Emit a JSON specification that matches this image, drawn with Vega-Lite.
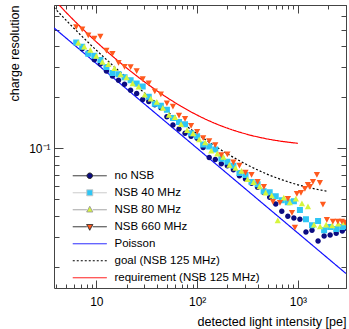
{
"$schema": "https://vega.github.io/schema/vega-lite/v6.json",
"width": 292, "height": 283,
"autosize": "none",
"padding": {"left": 54, "top": 5, "right": 3, "bottom": 41},
"background": "white",
"config": {"font": "Liberation Sans", "view": {"stroke": null}, "axis": {"grid": false}},
"datasets": {
"curves": [
{"series":"Poisson","intensity":3.8,"resolution":0.513},
{"series":"Poisson","intensity":10,"resolution":0.3162},
{"series":"Poisson","intensity":100,"resolution":0.1},
{"series":"Poisson","intensity":1000,"resolution":0.03162},
{"series":"Poisson","intensity":3000,"resolution":0.01826},
{"series":"goal (NSB 125 MHz)","intensity":3.8,"resolution":0.6778},
{"series":"goal (NSB 125 MHz)","intensity":5,"resolution":0.5697},
{"series":"goal (NSB 125 MHz)","intensity":7,"resolution":0.465},
{"series":"goal (NSB 125 MHz)","intensity":10,"resolution":0.3788},
{"series":"goal (NSB 125 MHz)","intensity":15,"resolution":0.3034},
{"series":"goal (NSB 125 MHz)","intensity":20,"resolution":0.2608},
{"series":"goal (NSB 125 MHz)","intensity":30,"resolution":0.2123},
{"series":"goal (NSB 125 MHz)","intensity":50,"resolution":0.1658},
{"series":"goal (NSB 125 MHz)","intensity":70,"resolution":0.1421},
{"series":"goal (NSB 125 MHz)","intensity":100,"resolution":0.1217},
{"series":"goal (NSB 125 MHz)","intensity":150,"resolution":0.1032},
{"series":"goal (NSB 125 MHz)","intensity":200,"resolution":0.0927},
{"series":"goal (NSB 125 MHz)","intensity":300,"resolution":0.081},
{"series":"goal (NSB 125 MHz)","intensity":500,"resolution":0.0702},
{"series":"goal (NSB 125 MHz)","intensity":700,"resolution":0.0651},
{"series":"goal (NSB 125 MHz)","intensity":1000,"resolution":0.0609},
{"series":"goal (NSB 125 MHz)","intensity":1500,"resolution":0.0575},
{"series":"goal (NSB 125 MHz)","intensity":2000,"resolution":0.0557},
{"series":"requirement (NSB 125 MHz)","intensity":4.27,"resolution":0.7},
{"series":"requirement (NSB 125 MHz)","intensity":5,"resolution":0.634},
{"series":"requirement (NSB 125 MHz)","intensity":7,"resolution":0.5185},
{"series":"requirement (NSB 125 MHz)","intensity":10,"resolution":0.4243},
{"series":"requirement (NSB 125 MHz)","intensity":15,"resolution":0.3429},
{"series":"requirement (NSB 125 MHz)","intensity":20,"resolution":0.2975},
{"series":"requirement (NSB 125 MHz)","intensity":30,"resolution":0.2468},
{"series":"requirement (NSB 125 MHz)","intensity":50,"resolution":0.1996},
{"series":"requirement (NSB 125 MHz)","intensity":70,"resolution":0.1764},
{"series":"requirement (NSB 125 MHz)","intensity":100,"resolution":0.157},
{"series":"requirement (NSB 125 MHz)","intensity":150,"resolution":0.1404},
{"series":"requirement (NSB 125 MHz)","intensity":200,"resolution":0.1314},
{"series":"requirement (NSB 125 MHz)","intensity":300,"resolution":0.1218},
{"series":"requirement (NSB 125 MHz)","intensity":500,"resolution":0.1135},
{"series":"requirement (NSB 125 MHz)","intensity":700,"resolution":0.1098},
{"series":"requirement (NSB 125 MHz)","intensity":1000,"resolution":0.107}
],
"points": [
{"series":"no NSB","intensity":7.24,"resolution":0.387},
{"series":"no NSB","intensity":8.32,"resolution":0.366},
{"series":"no NSB","intensity":9.55,"resolution":0.3325},
{"series":"no NSB","intensity":10.96,"resolution":0.3145},
{"series":"no NSB","intensity":12.59,"resolution":0.2856},
{"series":"no NSB","intensity":14.45,"resolution":0.2666},
{"series":"no NSB","intensity":16.6,"resolution":0.2522},
{"series":"no NSB","intensity":19.05,"resolution":0.2386},
{"series":"no NSB","intensity":21.88,"resolution":0.2197},
{"series":"no NSB","intensity":25.12,"resolution":0.2106},
{"series":"no NSB","intensity":28.84,"resolution":0.1939},
{"series":"no NSB","intensity":33.11,"resolution":0.1885},
{"series":"no NSB","intensity":38.02,"resolution":0.1808},
{"series":"no NSB","intensity":43.65,"resolution":0.1734},
{"series":"no NSB","intensity":50.12,"resolution":0.1533},
{"series":"no NSB","intensity":57.54,"resolution":0.1373},
{"series":"no NSB","intensity":66.07,"resolution":0.1299},
{"series":"no NSB","intensity":75.86,"resolution":0.1228},
{"series":"no NSB","intensity":87.1,"resolution":0.1179},
{"series":"no NSB","intensity":100,"resolution":0.1145},
{"series":"no NSB","intensity":114.8,"resolution":0.1012},
{"series":"no NSB","intensity":131.8,"resolution":0.0883},
{"series":"no NSB","intensity":151.4,"resolution":0.0858},
{"series":"no NSB","intensity":173.8,"resolution":0.0812},
{"series":"no NSB","intensity":199.5,"resolution":0.0789},
{"series":"no NSB","intensity":229.1,"resolution":0.0747},
{"series":"no NSB","intensity":263,"resolution":0.0688},
{"series":"no NSB","intensity":302,"resolution":0.0658},
{"series":"no NSB","intensity":346.7,"resolution":0.0623},
{"series":"no NSB","intensity":398.1,"resolution":0.0589},
{"series":"no NSB","intensity":457.1,"resolution":0.0551},
{"series":"no NSB","intensity":524.8,"resolution":0.0515},
{"series":"no NSB","intensity":602.6,"resolution":0.0469},
{"series":"no NSB","intensity":691.8,"resolution":0.0426},
{"series":"no NSB","intensity":794.3,"resolution":0.0398},
{"series":"no NSB","intensity":912,"resolution":0.0388},
{"series":"no NSB","intensity":1047,"resolution":0.0382},
{"series":"no NSB","intensity":1202,"resolution":0.0321},
{"series":"no NSB","intensity":1380,"resolution":0.0329},
{"series":"no NSB","intensity":1585,"resolution":0.0284},
{"series":"no NSB","intensity":1820,"resolution":0.0304},
{"series":"no NSB","intensity":2089,"resolution":0.0308},
{"series":"no NSB","intensity":2399,"resolution":0.0316},
{"series":"no NSB","intensity":2754,"resolution":0.0325},
{"series":"no NSB","intensity":2950,"resolution":0.0338},
{"series":"NSB 40 MHz","intensity":6.31,"resolution":0.4203},
{"series":"NSB 40 MHz","intensity":7.24,"resolution":0.3975},
{"series":"NSB 40 MHz","intensity":8.32,"resolution":0.3611},
{"series":"NSB 40 MHz","intensity":9.55,"resolution":0.351},
{"series":"NSB 40 MHz","intensity":10.96,"resolution":0.332},
{"series":"NSB 40 MHz","intensity":12.59,"resolution":0.3016},
{"series":"NSB 40 MHz","intensity":14.45,"resolution":0.2776},
{"series":"NSB 40 MHz","intensity":16.6,"resolution":0.2736},
{"series":"NSB 40 MHz","intensity":19.05,"resolution":0.2623},
{"series":"NSB 40 MHz","intensity":21.88,"resolution":0.2516},
{"series":"NSB 40 MHz","intensity":25.12,"resolution":0.2412},
{"series":"NSB 40 MHz","intensity":28.84,"resolution":0.2313},
{"series":"NSB 40 MHz","intensity":33.11,"resolution":0.2017},
{"series":"NSB 40 MHz","intensity":38.02,"resolution":0.1832},
{"series":"NSB 40 MHz","intensity":43.65,"resolution":0.1781},
{"series":"NSB 40 MHz","intensity":50.12,"resolution":0.1685},
{"series":"NSB 40 MHz","intensity":57.54,"resolution":0.1509},
{"series":"NSB 40 MHz","intensity":66.07,"resolution":0.1428},
{"series":"NSB 40 MHz","intensity":75.86,"resolution":0.1388},
{"series":"NSB 40 MHz","intensity":87.1,"resolution":0.1228},
{"series":"NSB 40 MHz","intensity":100,"resolution":0.1177},
{"series":"NSB 40 MHz","intensity":114.8,"resolution":0.1054},
{"series":"NSB 40 MHz","intensity":131.8,"resolution":0.1025},
{"series":"NSB 40 MHz","intensity":151.4,"resolution":0.0983},
{"series":"NSB 40 MHz","intensity":173.8,"resolution":0.0869},
{"series":"NSB 40 MHz","intensity":199.5,"resolution":0.0833},
{"series":"NSB 40 MHz","intensity":229.1,"resolution":0.0788},
{"series":"NSB 40 MHz","intensity":263,"resolution":0.0716},
{"series":"NSB 40 MHz","intensity":302,"resolution":0.0695},
{"series":"NSB 40 MHz","intensity":346.7,"resolution":0.0632},
{"series":"NSB 40 MHz","intensity":398.1,"resolution":0.0614},
{"series":"NSB 40 MHz","intensity":457.1,"resolution":0.0559},
{"series":"NSB 40 MHz","intensity":524.8,"resolution":0.0551},
{"series":"NSB 40 MHz","intensity":602.6,"resolution":0.0522},
{"series":"NSB 40 MHz","intensity":691.8,"resolution":0.0494},
{"series":"NSB 40 MHz","intensity":794.3,"resolution":0.0481},
{"series":"NSB 40 MHz","intensity":912,"resolution":0.0488},
{"series":"NSB 40 MHz","intensity":1047,"resolution":0.0432},
{"series":"NSB 40 MHz","intensity":1202,"resolution":0.0382},
{"series":"NSB 40 MHz","intensity":1380,"resolution":0.0352},
{"series":"NSB 40 MHz","intensity":1585,"resolution":0.0372},
{"series":"NSB 40 MHz","intensity":1820,"resolution":0.0329},
{"series":"NSB 40 MHz","intensity":2089,"resolution":0.0343},
{"series":"NSB 40 MHz","intensity":2399,"resolution":0.0334},
{"series":"NSB 40 MHz","intensity":2754,"resolution":0.0343},
{"series":"NSB 40 MHz","intensity":2950,"resolution":0.0348},
{"series":"NSB 80 MHz","intensity":6.61,"resolution":0.4163},
{"series":"NSB 80 MHz","intensity":7.59,"resolution":0.3939},
{"series":"NSB 80 MHz","intensity":8.71,"resolution":0.3776},
{"series":"NSB 80 MHz","intensity":10,"resolution":0.3477},
{"series":"NSB 80 MHz","intensity":11.48,"resolution":0.3201},
{"series":"NSB 80 MHz","intensity":13.18,"resolution":0.3111},
{"series":"NSB 80 MHz","intensity":15.14,"resolution":0.2943},
{"series":"NSB 80 MHz","intensity":17.38,"resolution":0.271},
{"series":"NSB 80 MHz","intensity":19.95,"resolution":0.2599},
{"series":"NSB 80 MHz","intensity":22.91,"resolution":0.2392},
{"series":"NSB 80 MHz","intensity":26.3,"resolution":0.2294},
{"series":"NSB 80 MHz","intensity":30.2,"resolution":0.2056},
{"series":"NSB 80 MHz","intensity":34.67,"resolution":0.1944},
{"series":"NSB 80 MHz","intensity":39.81,"resolution":0.1865},
{"series":"NSB 80 MHz","intensity":45.71,"resolution":0.1717},
{"series":"NSB 80 MHz","intensity":52.48,"resolution":0.1559},
{"series":"NSB 80 MHz","intensity":60.26,"resolution":0.1515},
{"series":"NSB 80 MHz","intensity":69.18,"resolution":0.1376},
{"series":"NSB 80 MHz","intensity":79.43,"resolution":0.1268},
{"series":"NSB 80 MHz","intensity":91.2,"resolution":0.1215},
{"series":"NSB 80 MHz","intensity":104.7,"resolution":0.1119},
{"series":"NSB 80 MHz","intensity":120.2,"resolution":0.1073},
{"series":"NSB 80 MHz","intensity":138,"resolution":0.0961},
{"series":"NSB 80 MHz","intensity":158.5,"resolution":0.0922},
{"series":"NSB 80 MHz","intensity":182,"resolution":0.0884},
{"series":"NSB 80 MHz","intensity":208.9,"resolution":0.0792},
{"series":"NSB 80 MHz","intensity":239.9,"resolution":0.076},
{"series":"NSB 80 MHz","intensity":275.4,"resolution":0.0729},
{"series":"NSB 80 MHz","intensity":316.2,"resolution":0.0652},
{"series":"NSB 80 MHz","intensity":363.1,"resolution":0.0626},
{"series":"NSB 80 MHz","intensity":416.9,"resolution":0.0592},
{"series":"NSB 80 MHz","intensity":478.6,"resolution":0.0544},
{"series":"NSB 80 MHz","intensity":549.5,"resolution":0.0522},
{"series":"NSB 80 MHz","intensity":631,"resolution":0.0372},
{"series":"NSB 80 MHz","intensity":724.4,"resolution":0.0508},
{"series":"NSB 80 MHz","intensity":831.8,"resolution":0.0475},
{"series":"NSB 80 MHz","intensity":955,"resolution":0.0501},
{"series":"NSB 80 MHz","intensity":1096,"resolution":0.0469},
{"series":"NSB 80 MHz","intensity":1259,"resolution":0.045},
{"series":"NSB 80 MHz","intensity":1445,"resolution":0.0352},
{"series":"NSB 80 MHz","intensity":1660,"resolution":0.0343},
{"series":"NSB 80 MHz","intensity":1905,"resolution":0.0352},
{"series":"NSB 80 MHz","intensity":2188,"resolution":0.0348},
{"series":"NSB 80 MHz","intensity":2512,"resolution":0.0357},
{"series":"NSB 80 MHz","intensity":2884,"resolution":0.0362},
{"series":"NSB 660 MHz","intensity":6.31,"resolution":0.522},
{"series":"NSB 660 MHz","intensity":7.24,"resolution":0.5073},
{"series":"NSB 660 MHz","intensity":8.32,"resolution":0.467},
{"series":"NSB 660 MHz","intensity":9.55,"resolution":0.4479},
{"series":"NSB 660 MHz","intensity":10.96,"resolution":0.4594},
{"series":"NSB 660 MHz","intensity":12.59,"resolution":0.3796},
{"series":"NSB 660 MHz","intensity":14.45,"resolution":0.364},
{"series":"NSB 660 MHz","intensity":16.6,"resolution":0.3219},
{"series":"NSB 660 MHz","intensity":19.05,"resolution":0.3045},
{"series":"NSB 660 MHz","intensity":21.88,"resolution":0.304},
{"series":"NSB 660 MHz","intensity":25.12,"resolution":0.2876},
{"series":"NSB 660 MHz","intensity":28.84,"resolution":0.2577},
{"series":"NSB 660 MHz","intensity":33.11,"resolution":0.2438},
{"series":"NSB 660 MHz","intensity":38.02,"resolution":0.2185},
{"series":"NSB 660 MHz","intensity":43.65,"resolution":0.2096},
{"series":"NSB 660 MHz","intensity":50.12,"resolution":0.1853},
{"series":"NSB 660 MHz","intensity":57.54,"resolution":0.1775},
{"series":"NSB 660 MHz","intensity":66.07,"resolution":0.157},
{"series":"NSB 660 MHz","intensity":75.86,"resolution":0.1505},
{"series":"NSB 660 MHz","intensity":87.1,"resolution":0.1368},
{"series":"NSB 660 MHz","intensity":100,"resolution":0.1259},
{"series":"NSB 660 MHz","intensity":114.8,"resolution":0.1159},
{"series":"NSB 660 MHz","intensity":131.8,"resolution":0.1111},
{"series":"NSB 660 MHz","intensity":151.4,"resolution":0.1052},
{"series":"NSB 660 MHz","intensity":173.8,"resolution":0.0918},
{"series":"NSB 660 MHz","intensity":199.5,"resolution":0.0928},
{"series":"NSB 660 MHz","intensity":229.1,"resolution":0.0832},
{"series":"NSB 660 MHz","intensity":263,"resolution":0.0798},
{"series":"NSB 660 MHz","intensity":302,"resolution":0.0724},
{"series":"NSB 660 MHz","intensity":346.7,"resolution":0.0704},
{"series":"NSB 660 MHz","intensity":398.1,"resolution":0.0639},
{"series":"NSB 660 MHz","intensity":460,"resolution":0.0598},
{"series":"NSB 660 MHz","intensity":565,"resolution":0.0488},
{"series":"NSB 660 MHz","intensity":664,"resolution":0.0481},
{"series":"NSB 660 MHz","intensity":796,"resolution":0.0508},
{"series":"NSB 660 MHz","intensity":873,"resolution":0.042},
{"series":"NSB 660 MHz","intensity":934,"resolution":0.0343},
{"series":"NSB 660 MHz","intensity":977,"resolution":0.0544},
{"series":"NSB 660 MHz","intensity":1072,"resolution":0.0551},
{"series":"NSB 660 MHz","intensity":1173,"resolution":0.0582},
{"series":"NSB 660 MHz","intensity":1256,"resolution":0.0614},
{"series":"NSB 660 MHz","intensity":1316,"resolution":0.0598},
{"series":"NSB 660 MHz","intensity":1410,"resolution":0.0639},
{"series":"NSB 660 MHz","intensity":1543,"resolution":0.0703},
{"series":"NSB 660 MHz","intensity":1652,"resolution":0.0631},
{"series":"NSB 660 MHz","intensity":1771,"resolution":0.0469},
{"series":"NSB 660 MHz","intensity":1938,"resolution":0.0382},
{"series":"NSB 660 MHz","intensity":2223,"resolution":0.0372},
{"series":"NSB 660 MHz","intensity":2489,"resolution":0.0372},
{"series":"NSB 660 MHz","intensity":2729,"resolution":0.0372},
{"series":"NSB 660 MHz","intensity":2950,"resolution":0.0367}
]
},
"resolve": {"axis": {"x": "independent", "y": "independent"}},
"layer": [
{
"data": {"name": "curves"},
"transform": [{"filter": "datum.intensity < 0"}],
"mark": {"type": "point", "opacity": 0},
"encoding": {
"x": {"field": "intensity", "type": "quantitative", "scale": {"type": "log", "domain": [3.8, 3000]},
"axis": {"orient": "bottom", "values": [10,100,1000],
"labelExpr": "datum.value == 10 ? '10' : datum.value == 100 ? '10²' : '10³'",
"tickSize": -8, "labelPadding": 16, "labelFont": "Liberation Sans", "labelFontSize": 12, "labelColor": "#000000", "labelFlush": false, "labelOverlap": false, "labelBound": false,
"domain": false, "tickColor": "#444444", "grid": false,
"title": "detected light intensity [pe]", "titleFont": "Liberation Sans", "titleFontSize": 12.6, "titleFontWeight": "normal", "titleColor": "#000000",
"titleAnchor": "end", "titleAlign": "right", "titleBaseline": "alphabetic", "titleX": 292, "titleY": 37.5}},
"y": {"field": "resolution", "type": "quantitative", "scale": {"type": "log", "domain": [0.015, 0.7]},
"axis": {"orient": "left", "values": [0.1],
"labelExpr": "'10⁻¹'",
"tickSize": -9, "labelPadding": 13, "labelFont": "Liberation Sans", "labelFontSize": 12, "labelColor": "#000000", "labelFlush": false, "labelOverlap": false, "labelBound": false,
"domain": false, "tickColor": "#444444", "grid": false,
"title": "charge resolution", "titleFont": "Liberation Sans", "titleFontSize": 12.5, "titleFontWeight": "normal", "titleColor": "#000000",
"titleAngle": 270, "titleAnchor": "end", "titleAlign": "right", "titleBaseline": "alphabetic", "titleX": -36, "titleY": 0}}
}
},
{
"data": {"name": "curves"},
"transform": [{"filter": "datum.intensity < 0"}],
"mark": {"type": "point", "opacity": 0},
"encoding": {
"x": {"field": "intensity", "type": "quantitative", "scale": {"type": "log", "domain": [3.8, 3000]},
"axis": {"orient": "top", "values": [10,100,1000], "labels": false, "tickSize": -8, "domain": false, "tickColor": "#444444", "grid": false, "title": null}},
"y": {"field": "resolution", "type": "quantitative", "scale": {"type": "log", "domain": [0.015, 0.7]},
"axis": {"orient": "right", "values": [0.1], "labels": false, "tickSize": -9, "domain": false, "tickColor": "#444444", "grid": false, "title": null}}
}
},
{
"data": {"name": "curves"},
"mark": {"type": "line", "strokeWidth": 1.2, "interpolate": "monotone", "clip": true},
"encoding": {
"x": {"field": "intensity", "type": "quantitative", "scale": {"type": "log", "domain": [3.8, 3000]},
"axis": {"orient": "bottom", "values": [4,5,6,7,8,9,20,30,40,50,60,70,80,90,200,300,400,500,600,700,800,900,2000,3000],
"labels": false, "tickSize": -4, "domainColor": "#444444", "tickColor": "#444444", "grid": false, "title": null}},
"y": {"field": "resolution", "type": "quantitative", "scale": {"type": "log", "domain": [0.015, 0.7]},
"axis": {"orient": "left", "values": [0.02,0.03,0.04,0.05,0.06,0.07,0.08,0.09,0.2,0.3,0.4,0.5,0.6,0.7],
"labels": false, "tickSize": -5, "domainColor": "#444444", "tickColor": "#444444", "grid": false, "title": null}},
"stroke": {"field": "series", "type": "nominal",
"scale": {"domain": ["no NSB","NSB 40 MHz","NSB 80 MHz","NSB 660 MHz","Poisson","goal (NSB 125 MHz)","requirement (NSB 125 MHz)"],
"range": ["#222222","#c4c4c4","#9a9a9a","#222222","#1010ff","#000000","#ff0000"]},
"legend": {"title": null, "orient": "none", "legendX": 30, "legendY": 165, "padding": 0, "symbolSize": 100, "labelOffset": 19, "rowPadding": 4, "labelFont": "Liberation Sans", "labelFontSize": 11.5, "labelColor": "#000000", "labelLimit": 260, "symbolStrokeWidth": 1}},
"strokeDash": {"field": "series", "type": "nominal",
"scale": {"domain": ["no NSB","NSB 40 MHz","NSB 80 MHz","NSB 660 MHz","Poisson","goal (NSB 125 MHz)","requirement (NSB 125 MHz)"],
"range": [[1,0],[1,0],[1,0],[1,0],[1,0],[2,2],[1,0]]},
"legend": {"title": null, "orient": "none", "legendX": 30, "legendY": 165, "padding": 0, "symbolSize": 100, "labelOffset": 19, "rowPadding": 4, "labelFont": "Liberation Sans", "labelFontSize": 11.5, "labelColor": "#000000", "labelLimit": 260, "symbolStrokeWidth": 1}}
}
},
{
"data": {"name": "points"},
"mark": {"type": "point", "filled": true, "opacity": 1, "strokeWidth": 0, "size": 100, "clip": true},
"encoding": {
"x": {"field": "intensity", "type": "quantitative", "scale": {"type": "log", "domain": [3.8, 3000]},
"axis": {"orient": "top", "values": [4,5,6,7,8,9,20,30,40,50,60,70,80,90,200,300,400,500,600,700,800,900,2000,3000],
"labels": false, "tickSize": -4, "domainColor": "#444444", "tickColor": "#444444", "grid": false, "title": null}},
"y": {"field": "resolution", "type": "quantitative", "scale": {"type": "log", "domain": [0.015, 0.7]},
"axis": {"orient": "right", "values": [0.02,0.03,0.04,0.05,0.06,0.07,0.08,0.09,0.2,0.3,0.4,0.5,0.6,0.7],
"labels": false, "tickSize": -5, "domainColor": "#444444", "tickColor": "#444444", "grid": false, "title": null}},
"fill": {"field": "series", "type": "nominal",
"scale": {"domain": ["no NSB","NSB 40 MHz","NSB 80 MHz","NSB 660 MHz","Poisson","goal (NSB 125 MHz)","requirement (NSB 125 MHz)"],
"range": ["#0c0c82","#2ec6f5","#d6f53c","#ff5a1e","transparent","transparent","transparent"]},
"legend": {"title": null, "orient": "none", "legendX": 30, "legendY": 165, "padding": 0, "symbolSize": 100, "labelOffset": 19, "rowPadding": 4, "labelFont": "Liberation Sans", "labelFontSize": 11.5, "labelColor": "#000000", "labelLimit": 260, "symbolStrokeWidth": 1}},
"shape": {"field": "series", "type": "nominal",
"scale": {"domain": ["no NSB","NSB 40 MHz","NSB 80 MHz","NSB 660 MHz","Poisson","goal (NSB 125 MHz)","requirement (NSB 125 MHz)"],
"range": ["M-3.4,0H-0.55M0.55,0H3.4M0.55,0A0.55,0.55,0,1,1,-0.55,0A0.55,0.55,0,1,1,0.55,0Z","M-3.4,0H-0.6M0.6,0H3.4M-0.6,-0.6H0.6V0.6H-0.6Z","M-3.4,0H-0.6M0.6,0H3.4M0,-0.7L0.62,0.45H-0.62Z","M-3.4,0H-0.6M0.6,0H3.4M0,0.7L0.62,-0.45H-0.62Z","M-3.4,0H3.4","M-3.4,0H3.4","M-3.4,0H3.4"]},
"legend": {"title": null, "orient": "none", "legendX": 30, "legendY": 165, "padding": 0, "symbolSize": 100, "labelOffset": 19, "rowPadding": 4, "labelFont": "Liberation Sans", "labelFontSize": 11.5, "labelColor": "#000000", "labelLimit": 260, "symbolStrokeWidth": 1}}
}
}
]
}
